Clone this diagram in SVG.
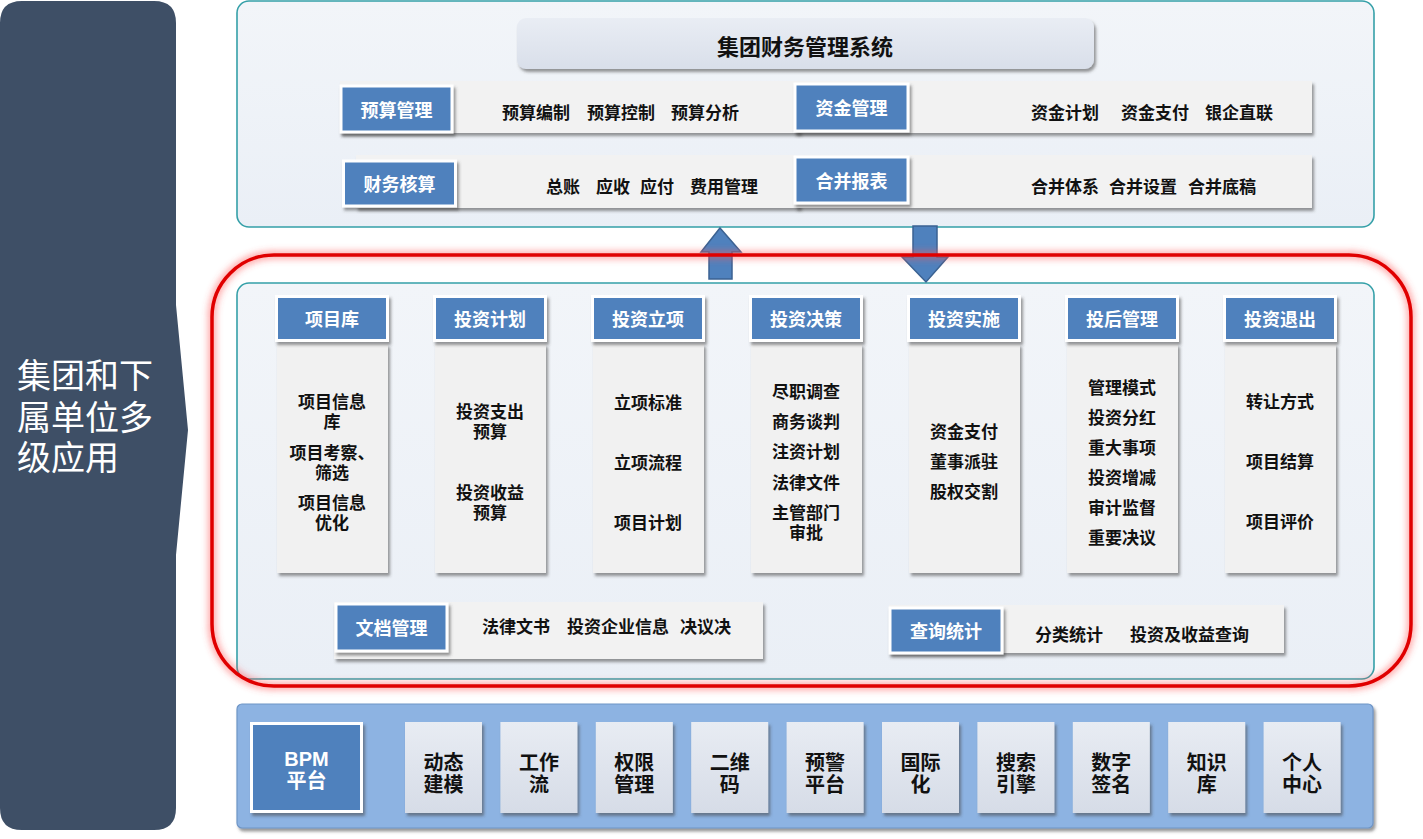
<svg xmlns="http://www.w3.org/2000/svg" width="1423" height="839" viewBox="0 0 1423 839">
<defs>
<filter id="sh" x="-10%" y="-10%" width="130%" height="140%">
<feDropShadow dx="2" dy="3" stdDeviation="1.6" flood-color="#444" flood-opacity="0.55"/>
</filter>
<filter id="glow" x="-5%" y="-5%" width="110%" height="110%">
<feGaussianBlur stdDeviation="3"/>
</filter>
<linearGradient id="tg" x1="0" y1="0" x2="0" y2="1">
<stop offset="0" stop-color="#e9edf4"/>
<stop offset="1" stop-color="#d9dfea"/>
</linearGradient>
<linearGradient id="sg" x1="0" y1="0" x2="0" y2="1">
<stop offset="0" stop-color="#e8ecf3"/>
<stop offset="1" stop-color="#d6dce7"/>
</linearGradient>
<linearGradient id="pg" x1="0" y1="0" x2="0" y2="1">
<stop offset="0" stop-color="#f2f5f9"/>
<stop offset="1" stop-color="#eaeff6"/>
</linearGradient>
</defs>
<style>
text{font-family:"Noto Sans CJK SC","Noto Sans CJK JP",sans-serif;dominant-baseline:central}
text.tight{font-family:"Liberation Sans","Noto Sans CJK SC",sans-serif}
.hb{fill:#4f81bd;stroke:#fff;stroke-width:3;filter:url(#sh)}
.hl{font-weight:700;fill:#fff;font-size:18px;text-anchor:middle}
.bt{font-weight:700;fill:#111;font-size:17px;text-anchor:middle}
.rt{font-weight:700;fill:#111;font-size:17px}
.bar{fill:#f2f2f2;filter:url(#sh)}
.body{fill:#f1f1f1;filter:url(#sh)}
.panel{fill:url(#pg);stroke:#35a0a8;stroke-width:1.6}
.sb{fill:url(#sg);filter:url(#sh)}
.st{font-weight:700;fill:#111;font-size:20px;text-anchor:middle}
.arr{fill:#4f81bd;stroke:#3b6292;stroke-width:1.5}
</style>
<rect width="1423" height="839" fill="#fff"/>

<g id="left-panel">
<path d="M22,1 H154 Q176,1 176,23 V305 L188,430 L176,555 V808 Q176,830 154,830 H22 Q0,830 0,808 V23 Q0,1 22,1 Z" fill="#3e4f66"/>
<text class="tight" fill="#fff" font-size="34"><tspan x="17" y="376">集团和下</tspan><tspan x="17" y="418">属单位多</tspan><tspan x="17" y="458">级应用</tspan></text>
</g>

<g id="finance-system">
<rect class="panel" x="237" y="1" width="1137" height="226" rx="12"/>
<rect x="517" y="18" width="577" height="51" rx="9" fill="url(#tg)" filter="url(#sh)"/>
<text x="805" y="45" font-size="22" font-weight="700" fill="#111" text-anchor="middle">集团财务管理系统</text>
</g>

<g id="budget">
<rect class="bar" x="340" y="81" width="460" height="52"/>
<rect class="hb" x="341" y="86" width="111" height="46"/>
<text class="hl" x="396.5" y="109">预算管理</text>
<text class="rt" x="502" y="111">预算编制</text>
<text class="rt" x="587" y="111">预算控制</text>
<text class="rt" x="671" y="111">预算分析</text>
</g>
<g id="fund">
<rect class="bar" x="795" y="81" width="517" height="52"/>
<rect class="hb" x="795" y="84" width="113" height="47"/>
<text class="hl" x="851.5" y="107">资金管理</text>
<text class="rt" x="1031" y="111">资金计划</text>
<text class="rt" x="1121" y="111">资金支付</text>
<text class="rt" x="1205" y="111">银企直联</text>
</g>
<g id="accounting">
<rect class="bar" x="356" y="155" width="444" height="53"/>
<rect class="hb" x="343.5" y="161" width="112" height="45"/>
<text class="hl" x="399.5" y="183">财务核算</text>
<text class="rt" x="546" y="185">总账</text>
<text class="rt" x="596" y="185">应收</text>
<text class="rt" x="640" y="185">应付</text>
<text class="rt" x="690" y="185">费用管理</text>
</g>
<g id="consolidation">
<rect class="bar" x="795" y="155" width="517" height="53"/>
<rect class="hb" x="795" y="157" width="113" height="46"/>
<text class="hl" x="851.5" y="180">合并报表</text>
<text class="rt" x="1031" y="185">合并体系</text>
<text class="rt" x="1109" y="185">合并设置</text>
<text class="rt" x="1188" y="185">合并底稿</text>
</g>

<g id="investment-panel">
<rect class="panel" x="237" y="283" width="1137" height="396" rx="12"/>
</g>

<g id="col-1">
<rect class="body" x="277" y="344" width="111" height="229"/>
<rect class="hb" x="276.5" y="296.5" width="111" height="44"/>
<text class="hl" x="332" y="318">项目库</text>
<text class="bt tight"><tspan x="332" y="402">项目信息</tspan><tspan x="332" y="422">库</tspan><tspan x="332" y="453">项目考察、</tspan><tspan x="332" y="473">筛选</tspan><tspan x="332" y="503">项目信息</tspan><tspan x="332" y="523">优化</tspan></text>
</g>
<g id="col-2">
<rect class="body" x="435" y="344" width="111" height="229"/>
<rect class="hb" x="434.5" y="296.5" width="111" height="44"/>
<text class="hl" x="490" y="318">投资计划</text>
<text class="bt tight"><tspan x="490" y="412">投资支出</tspan><tspan x="490" y="432">预算</tspan><tspan x="490" y="493">投资收益</tspan><tspan x="490" y="513">预算</tspan></text>
</g>
<g id="col-3">
<rect class="body" x="593" y="344" width="111" height="229"/>
<rect class="hb" x="592.5" y="296.5" width="111" height="44"/>
<text class="hl" x="648" y="318">投资立项</text>
<text class="bt" x="648" y="401">立项标准</text>
<text class="bt" x="648" y="461">立项流程</text>
<text class="bt" x="648" y="521">项目计划</text>
</g>
<g id="col-4">
<rect class="body" x="751" y="344" width="111" height="229"/>
<rect class="hb" x="750.5" y="296.5" width="111" height="44"/>
<text class="hl" x="806" y="318">投资决策</text>
<text class="bt tight"><tspan x="806" y="392">尽职调查</tspan><tspan x="806" y="422">商务谈判</tspan><tspan x="806" y="452">注资计划</tspan><tspan x="806" y="483">法律文件</tspan><tspan x="806" y="513">主管部门</tspan><tspan x="806" y="533">审批</tspan></text>
</g>
<g id="col-5">
<rect class="body" x="909" y="344" width="111" height="229"/>
<rect class="hb" x="908.5" y="296.5" width="111" height="44"/>
<text class="hl" x="964" y="318">投资实施</text>
<text class="bt" x="964" y="430">资金支付</text>
<text class="bt" x="964" y="460">董事派驻</text>
<text class="bt" x="964" y="490">股权交割</text>
</g>
<g id="col-6">
<rect class="body" x="1067" y="344" width="111" height="229"/>
<rect class="hb" x="1066.5" y="296.5" width="111" height="44"/>
<text class="hl" x="1122" y="318">投后管理</text>
<text class="bt" x="1122" y="386">管理模式</text>
<text class="bt" x="1122" y="416">投资分红</text>
<text class="bt" x="1122" y="446">重大事项</text>
<text class="bt" x="1122" y="476">投资增减</text>
<text class="bt" x="1122" y="506">审计监督</text>
<text class="bt" x="1122" y="536">重要决议</text>
</g>
<g id="col-7">
<rect class="body" x="1225" y="344" width="111" height="229"/>
<rect class="hb" x="1224.5" y="296.5" width="111" height="44"/>
<text class="hl" x="1280" y="318">投资退出</text>
<text class="bt" x="1280" y="400">转让方式</text>
<text class="bt" x="1280" y="460">项目结算</text>
<text class="bt" x="1280" y="520">项目评价</text>
</g>

<g id="doc-mgmt">
<rect class="bar" x="334" y="602" width="429" height="57"/>
<rect class="hb" x="336" y="604" width="111" height="47"/>
<text class="hl" x="391.5" y="627">文档管理</text>
<text class="rt" x="482" y="625">法律文书</text>
<text class="rt" x="567" y="625">投资企业信息</text>
<text class="rt" x="680" y="625">决议决</text>
</g>
<g id="query-stats">
<rect class="bar" x="889" y="605" width="395" height="48"/>
<rect class="hb" x="890" y="608" width="112" height="45"/>
<text class="hl" x="946" y="630">查询统计</text>
<text class="rt" x="1035" y="633">分类统计</text>
<text class="rt" x="1130" y="633">投资及收益查询</text>
</g>

<g id="connectors">
<path class="arr" d="M720,228 L741,252 L732,252 L732,279 L709,279 L709,252 L701,252 Z"/>
<path class="arr" d="M913,226 H937 V257 H948 L926,282 L902,257 H913 Z"/>
</g>

<g id="highlight">
<rect x="212" y="255" width="1199" height="431" rx="62" fill="none" stroke="#ff5050" stroke-width="9" stroke-opacity="0.45" filter="url(#glow)"/>
<rect x="212" y="255" width="1199" height="431" rx="62" fill="none" stroke="#e00000" stroke-width="3.5"/>
</g>

<g id="platform">
<rect x="237" y="704" width="1136" height="124" rx="5" fill="#8db3e2" stroke="#6e95c6" stroke-width="1.2" filter="url(#sh)"/>
</g>
<g id="bpm">
<rect class="hb" x="251.5" y="723.5" width="110" height="88"/>
<text class="tight" fill="#fff" font-size="20" font-weight="700" text-anchor="middle"><tspan x="306.5" y="759">BPM</tspan><tspan x="306.5" y="781">平台</tspan></text>
</g>
<g id="svc-1"><rect class="sb" x="405" y="722" width="77" height="91"/><text class="st tight"><tspan x="443.5" y="763">动态</tspan><tspan x="443.5" y="785">建模</tspan></text></g>
<g id="svc-2"><rect class="sb" x="500.4" y="722" width="77" height="91"/><text class="st tight"><tspan x="538.9" y="763">工作</tspan><tspan x="538.9" y="785">流</tspan></text></g>
<g id="svc-3"><rect class="sb" x="595.8" y="722" width="77" height="91"/><text class="st tight"><tspan x="634.3" y="763">权限</tspan><tspan x="634.3" y="785">管理</tspan></text></g>
<g id="svc-4"><rect class="sb" x="691.2" y="722" width="77" height="91"/><text class="st tight"><tspan x="729.7" y="763">二维</tspan><tspan x="729.7" y="785">码</tspan></text></g>
<g id="svc-5"><rect class="sb" x="786.6" y="722" width="77" height="91"/><text class="st tight"><tspan x="825.1" y="763">预警</tspan><tspan x="825.1" y="785">平台</tspan></text></g>
<g id="svc-6"><rect class="sb" x="882" y="722" width="77" height="91"/><text class="st tight"><tspan x="920.5" y="763">国际</tspan><tspan x="920.5" y="785">化</tspan></text></g>
<g id="svc-7"><rect class="sb" x="977.4" y="722" width="77" height="91"/><text class="st tight"><tspan x="1015.9" y="763">搜索</tspan><tspan x="1015.9" y="785">引擎</tspan></text></g>
<g id="svc-8"><rect class="sb" x="1072.8" y="722" width="77" height="91"/><text class="st tight"><tspan x="1111.3" y="763">数字</tspan><tspan x="1111.3" y="785">签名</tspan></text></g>
<g id="svc-9"><rect class="sb" x="1168.2" y="722" width="77" height="91"/><text class="st tight"><tspan x="1206.7" y="763">知识</tspan><tspan x="1206.7" y="785">库</tspan></text></g>
<g id="svc-10"><rect class="sb" x="1263.6" y="722" width="77" height="91"/><text class="st tight"><tspan x="1302.1" y="763">个人</tspan><tspan x="1302.1" y="785">中心</tspan></text></g>
</svg>
